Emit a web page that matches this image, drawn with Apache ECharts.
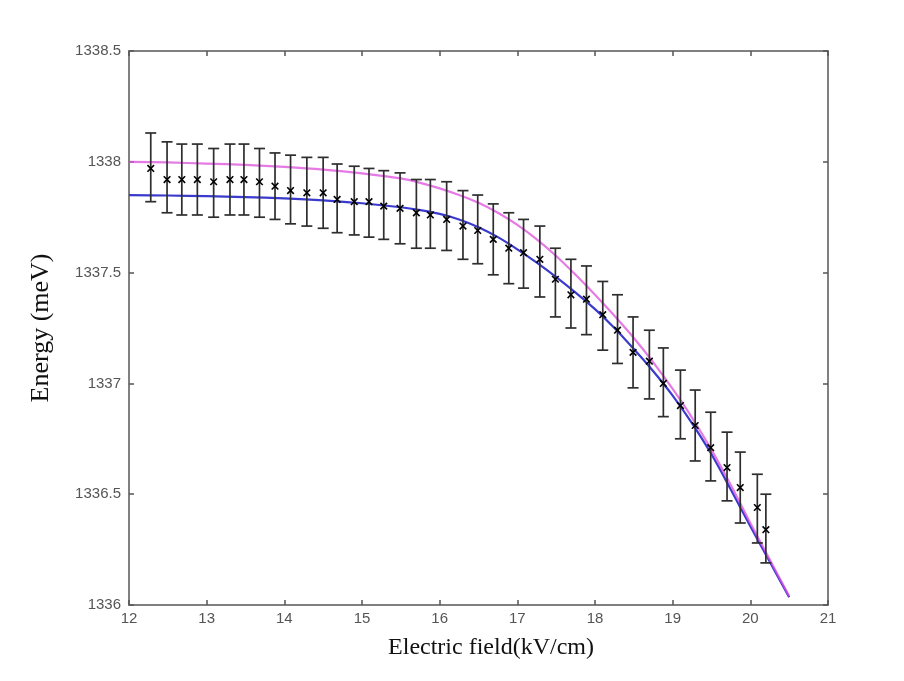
<!DOCTYPE html>
<html>
<head>
<meta charset="utf-8">
<script src="https://cdn.jsdelivr.net/npm/echarts@6/dist/echarts.min.js"></script>
<style>html,body{margin:0;padding:0;background:#fff;}#chart{width:904px;height:681px;}</style>
</head>
<body>
<div id="chart"></div>
<script>
// Measured points (Electric field, kV/cm) with mean energy and error-bar bounds (meV)
const fieldX = [12.28,12.49,12.68,12.88,13.09,13.30,13.48,13.68,13.88,14.08,14.29,14.50,14.68,14.90,15.09,15.28,15.49,15.70,15.88,16.09,16.30,16.49,16.69,16.89,17.08,17.29,17.49,17.69,17.89,18.10,18.29,18.49,18.70,18.88,19.10,19.29,19.49,19.70,19.87,20.09,20.20];
const energyMean = [1337.97,1337.92,1337.92,1337.92,1337.91,1337.92,1337.92,1337.91,1337.89,1337.87,1337.86,1337.86,1337.83,1337.82,1337.82,1337.80,1337.79,1337.77,1337.76,1337.74,1337.71,1337.69,1337.65,1337.61,1337.59,1337.56,1337.47,1337.40,1337.38,1337.31,1337.24,1337.14,1337.10,1337.00,1336.90,1336.81,1336.71,1336.62,1336.53,1336.44,1336.34];
const energyHigh = [1338.13,1338.09,1338.08,1338.08,1338.06,1338.08,1338.08,1338.06,1338.04,1338.03,1338.02,1338.02,1337.99,1337.98,1337.97,1337.96,1337.95,1337.92,1337.92,1337.91,1337.87,1337.85,1337.81,1337.77,1337.74,1337.71,1337.61,1337.56,1337.53,1337.46,1337.40,1337.30,1337.24,1337.16,1337.06,1336.97,1336.87,1336.78,1336.69,1336.59,1336.50];
const energyLow = [1337.82,1337.77,1337.76,1337.76,1337.75,1337.76,1337.76,1337.75,1337.74,1337.72,1337.71,1337.70,1337.68,1337.67,1337.66,1337.65,1337.63,1337.61,1337.61,1337.60,1337.56,1337.54,1337.49,1337.45,1337.43,1337.39,1337.30,1337.25,1337.22,1337.15,1337.09,1336.98,1336.93,1336.85,1336.75,1336.65,1336.56,1336.47,1336.37,1336.28,1336.19];

// Fitted curves
const fitX = [12,12.5,13,13.5,14,14.5,15,15.5,15.75,16,16.25,16.5,16.75,17,17.25,17.5,17.75,18,18.25,18.5,18.75,19,19.25,19.5,19.75,20,20.25,20.5];
const fitMagenta = [1338.00,1337.997,1337.992,1337.986,1337.977,1337.965,1337.948,1337.925,1337.905,1337.88,1337.85,1337.815,1337.77,1337.715,1337.65,1337.575,1337.49,1337.40,1337.305,1337.205,1337.095,1336.975,1336.845,1336.70,1336.54,1336.37,1336.205,1336.04];
const fitBlue = [1337.85,1337.848,1337.845,1337.841,1337.835,1337.826,1337.813,1337.795,1337.782,1337.765,1337.74,1337.705,1337.66,1337.605,1337.545,1337.48,1337.41,1337.335,1337.25,1337.155,1337.055,1336.945,1336.82,1336.68,1336.52,1336.355,1336.195,1336.035];

// Axis ticks
const xTicks = {min: 12, max: 21, step: 1};
const yTicks = {min: 1336, max: 1338.5, step: 0.5};

const chart = echarts.init(document.getElementById('chart'), null, {renderer: 'canvas'});

const errData = fieldX.map((x, i) => [x, energyLow[i], energyHigh[i], energyMean[i]]);
const magentaData = fitX.map((x, i) => [x, fitMagenta[i]]);
const blueData = fitX.map((x, i) => [x, fitBlue[i]]);

const frameColor = '#808080';
const tickStyle = {show: true, inside: true, length: 5, lineStyle: {color: '#555', width: 1.5}};
const labelStyle = {color: '#555', fontSize: 15, fontFamily: 'Liberation Sans, Arial, sans-serif'};

chart.setOption({
  animation: false,
  backgroundColor: '#ffffff',
  grid: {left: 129, top: 51, right: 76, bottom: 76, containLabel: false, show: false},
  xAxis: [{
    type: 'value', min: xTicks.min, max: xTicks.max, interval: xTicks.step,
    axisLine: {show: true, lineStyle: {color: frameColor, width: 2}},
    axisTick: tickStyle,
    axisLabel: Object.assign({margin: 6}, labelStyle),
    splitLine: {show: false}
  }, {
    type: 'value', position: 'top', min: xTicks.min, max: xTicks.max, interval: xTicks.step,
    axisLine: {show: true, onZero: false, lineStyle: {color: frameColor, width: 2}},
    axisTick: tickStyle,
    axisLabel: {show: false}, splitLine: {show: false}
  }],
  yAxis: [{
    type: 'value', min: yTicks.min, max: yTicks.max, interval: yTicks.step,
    axisLine: {show: true, lineStyle: {color: frameColor, width: 2}},
    axisTick: tickStyle,
    axisLabel: Object.assign({margin: 8, formatter: v => String(+v.toFixed(1))}, labelStyle),
    splitLine: {show: false}
  }, {
    type: 'value', position: 'right', min: yTicks.min, max: yTicks.max, interval: yTicks.step,
    axisLine: {show: true, onZero: false, lineStyle: {color: frameColor, width: 2}},
    axisTick: tickStyle,
    axisLabel: {show: false}, splitLine: {show: false}
  }],
  graphic: [{
    type: 'text', x: 491, y: 648,
    style: {text: 'Electric field(kV/cm)', fill: '#111', font: '24px "Liberation Serif", "Times New Roman", serif', align: 'center', verticalAlign: 'middle'}
  }, {
    type: 'text', x: 41, y: 328, rotation: Math.PI / 2,
    style: {text: 'Energy (meV)', fill: '#111', font: '26px "Liberation Serif", "Times New Roman", serif', align: 'center', verticalAlign: 'middle'}
  }],
  series: [{
    type: 'line', name: 'fit blue', data: blueData, smooth: 0.3, showSymbol: false,
    lineStyle: {color: '#3a3acc', width: 2.2}, z: 2
  }, {
    type: 'line', name: 'fit magenta', data: magentaData, smooth: 0.3, showSymbol: false,
    lineStyle: {color: '#dc4ddc', width: 2.2, opacity: 0.75}, z: 3
  }, {
    type: 'custom', name: 'measured', data: errData, z: 5,
    renderItem: function (params, api) {
      const x = api.value(0);
      const pLo = api.coord([x, api.value(1)]);
      const pHi = api.coord([x, api.value(2)]);
      const c = api.coord([x, api.value(3)]);
      const hw = 5.5, cs = 3.3;
      const st = {stroke: '#2e2e2e', lineWidth: 1.7};
      const cst = {stroke: '#000', lineWidth: 1.6};
      return {type: 'group', children: [
        {type: 'line', shape: {x1: pLo[0], y1: pLo[1], x2: pHi[0], y2: pHi[1]}, style: st},
        {type: 'line', shape: {x1: pLo[0] - hw, y1: pLo[1], x2: pLo[0] + hw, y2: pLo[1]}, style: st},
        {type: 'line', shape: {x1: pHi[0] - hw, y1: pHi[1], x2: pHi[0] + hw, y2: pHi[1]}, style: st},
        {type: 'line', shape: {x1: c[0] - cs, y1: c[1] - cs, x2: c[0] + cs, y2: c[1] + cs}, style: cst},
        {type: 'line', shape: {x1: c[0] - cs, y1: c[1] + cs, x2: c[0] + cs, y2: c[1] - cs}, style: cst}
      ]};
    }
  }]
});
</script>
</body>
</html>
